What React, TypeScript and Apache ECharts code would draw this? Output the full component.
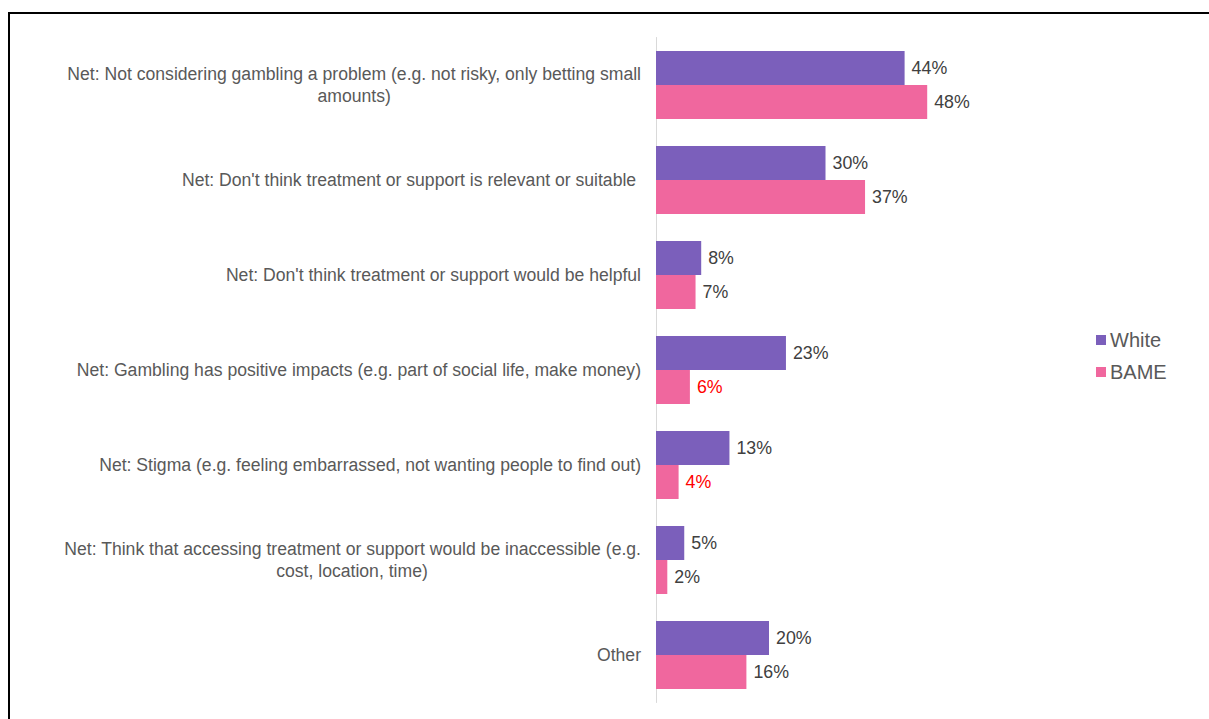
import React, { useEffect, useRef } from "react";
import * as echarts from "echarts";

const categories: string[] = [
  "Net: Not considering gambling a problem (e.g. not risky, only betting small\namounts)",
  "Net: Don't think treatment or support is relevant or suitable ",
  "Net: Don't think treatment or support would be helpful",
  "Net: Gambling has positive impacts (e.g. part of social life, make money)",
  "Net: Stigma (e.g. feeling embarrassed, not wanting people to find out)",
  "Net: Think that accessing treatment or support would be inaccessible (e.g.\ncost, location, time)",
  "Other",
];
const whiteValues: number[] = [44, 30, 8, 23, 13, 5, 20];
const bameValues: number[] = [48, 37, 7, 6, 4, 2, 16];
const bameHighlighted: number[] = [3, 4];
const seriesNames: string[] = ["White", "BAME"];
const secondLineWidths: number[] = [572, 0, 0, 0, 0, 578, 0];

const FONT = "'Liberation Sans', Arial, sans-serif";
const FS = 17.6;

export default function App() {
  const ref = useRef<HTMLDivElement>(null);
  useEffect(() => {
    if (!ref.current) return;
    const chart = echarts.init(ref.current, null, { renderer: "svg" });
    const labelBase = {
      show: true,
      position: "right" as const,
      distance: 7,
      formatter: "{c}%",
      color: "#404040",
      fontSize: 17.8,
      fontFamily: FONT,
    };
    chart.setOption({
      animation: false,
      backgroundColor: "#ffffff",
      textStyle: { fontFamily: FONT },
      graphic: [
        {
          type: "rect",
          shape: { x: 9, y: 13, width: 1400, height: 900 },
          style: { fill: "none", stroke: "#000000", lineWidth: 2 },
          silent: true,
        },
      ],
      legend: {
        orient: "vertical",
        left: 1091,
        top: 325,
        itemWidth: 10,
        itemHeight: 10,
        itemGap: 12,
        icon: "rect",
        data: seriesNames,
        textStyle: { color: "#595959", fontSize: 20, fontFamily: FONT, lineHeight: 20, padding: [0, 0, 0, -1] },
      },
      grid: { left: 656, top: 37.5, width: 339, height: 665 },
      xAxis: {
        type: "value",
        min: 0,
        max: 60,
        show: false,
        splitLine: { show: false },
      },
      yAxis: {
        type: "category",
        inverse: true,
        data: categories,
        axisLine: { show: true, lineStyle: { color: "#D9D9D9", width: 1 } },
        axisTick: { show: false },
        axisLabel: {
          margin: 15,
          color: "#595959",
          fontSize: FS,
          fontFamily: FONT,
          lineHeight: 22,
          formatter: (v: string, i: number) => {
            const parts = v.split("\n");
            if (parts.length < 2) return "{a|" + v + "}";
            return "{a|" + parts[0] + "}\n{c" + i + "|" + parts[1] + "}";
          },
          rich: Object.fromEntries([
            ["a", { color: "#595959", fontSize: FS, fontFamily: FONT, lineHeight: 22, align: "right" }],
            ...secondLineWidths.map((w, i) => [
              "c" + i,
              { color: "#595959", fontSize: FS, fontFamily: FONT, lineHeight: 22, align: "center", width: w || undefined },
            ]),
          ]),
        },
      },
      series: [
        {
          name: seriesNames[0],
          type: "bar",
          barGap: "0%",
          barCategoryGap: "28.4%",
          itemStyle: { color: "#7B5FBB" },
          label: labelBase,
          data: whiteValues,
        },
        {
          name: seriesNames[1],
          type: "bar",
          barGap: "0%",
          barCategoryGap: "28.4%",
          itemStyle: { color: "#F0679E" },
          label: labelBase,
          data: bameValues.map((v, i) =>
            bameHighlighted.includes(i) ? { value: v, label: { color: "#FF0000" } } : v
          ),
        },
      ],
    });
    return () => chart.dispose();
  }, []);
  return (
    <div
      ref={ref}
      style={{ position: "absolute", left: 0, top: 0, width: 1209, height: 719 }}
    />
  );
}
